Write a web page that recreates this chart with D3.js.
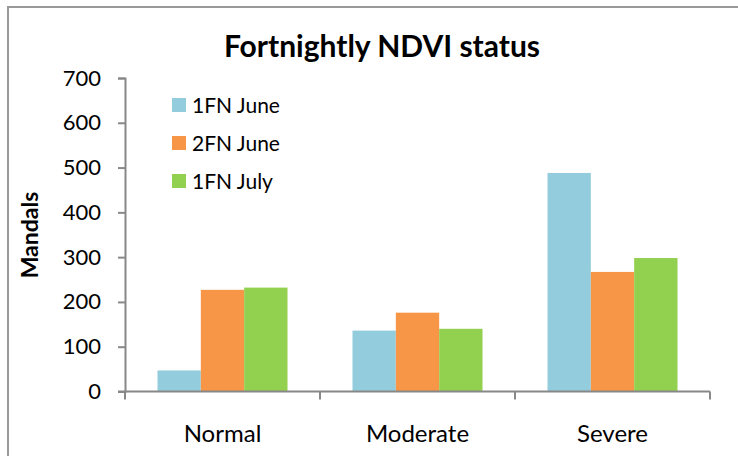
<!DOCTYPE html>
<html>
<head>
<meta charset="utf-8">
<script src="https://cdn.jsdelivr.net/npm/d3@7"></script>
<style>
  body { margin: 0; background: #fff; }
  svg { display: block; font-family: "Lato", "Open Sans", sans-serif; }
</style>
</head>
<body>
<div id="chart"></div>
<script>
// Chart data
const categories = ["Normal", "Moderate", "Severe"];
const seriesNames = ["1FN June", "2FN June", "1FN July"];
const june1 = [47, 136, 488];
const june2 = [227, 176, 267];
const july1 = [232, 140, 298];
const yTicks = [0, 100, 200, 300, 400, 500, 600, 700];
const colors = ["#93cddd", "#f79646", "#92d050"];

const width = 738;
const height = 456;
const margin = { top: 78, right: 28, bottom: 64, left: 125 };

const svg = d3.select("#chart").append("svg")
  .attr("width", width)
  .attr("height", height);

// Outer chart border (right and bottom edges run off the picture)
svg.append("rect")
  .attr("x", 8).attr("y", 7)
  .attr("width", 760).attr("height", 480)
  .attr("fill", "none")
  .attr("stroke", "#999")
  .attr("stroke-width", 2);

const x = d3.scaleBand()
  .domain(categories)
  .range([margin.left, width - margin.right]);

const inner = d3.scaleBand()
  .domain(seriesNames)
  .range([0, x.bandwidth()])
  .paddingOuter(0.75)
  .paddingInner(0);

const y = d3.scaleLinear()
  .domain([0, 700])
  .range([391.5, 78]);

// Bars
const series = [june1, june2, july1];
series.forEach((vals, i) => {
  svg.append("g")
    .selectAll("rect")
    .data(categories)
    .enter()
    .append("rect")
    .attr("x", (c) => x(c) + inner(seriesNames[i]))
    .attr("y", (c, j) => y(vals[j]))
    .attr("width", inner.bandwidth())
    .attr("height", (c, j) => y(0) - y(vals[j]))
    .attr("fill", colors[i]);
});

// Y axis
const yAxis = svg.append("g")
  .attr("transform", `translate(${margin.left},0)`)
  .call(d3.axisLeft(y).tickValues(yTicks).tickSize(7).tickPadding(17));
yAxis.select(".domain").attr("stroke", "#888").attr("stroke-width", 2);
yAxis.selectAll(".tick line").attr("stroke", "#888").attr("stroke-width", 2);
yAxis.selectAll(".tick text")
  .attr("fill", "#000")
  .style("font-size", "22px")
  .style("font-family", "Lato, sans-serif");

// X axis with ticks on category boundaries
const xg = svg.append("g")
  .attr("transform", `translate(0,${y(0)})`);
xg.append("line")
  .attr("x1", margin.left - 7).attr("x2", x.range()[1])
  .attr("stroke", "#888").attr("stroke-width", 2);
const bounds = categories.map((c) => x(c)).concat([x.range()[1]]);
xg.selectAll("line.tk")
  .data(bounds)
  .enter()
  .append("line")
  .attr("class", "tk")
  .attr("x1", (d) => d).attr("x2", (d) => d)
  .attr("y1", 0).attr("y2", 8)
  .attr("stroke", "#888").attr("stroke-width", 2);
xg.selectAll("text")
  .data(categories)
  .enter()
  .append("text")
  .attr("x", (d) => x(d) + x.bandwidth() / 2)
  .attr("y", 50)
  .attr("text-anchor", "middle")
  .style("font-size", "24px")
  .text((d) => d);

// Title
svg.append("text")
  .attr("x", 382)
  .attr("y", 57)
  .attr("text-anchor", "middle")
  .style("font-size", "30px")
  .style("font-weight", "bold")
  .text("Fortnightly NDVI status");

// Y label
svg.append("text")
  .attr("transform", "translate(38,235) rotate(-90)")
  .attr("text-anchor", "middle")
  .style("font-size", "23px")
  .style("font-weight", "bold")
  .text("Mandals");

// Legend
const legend = svg.append("g");
seriesNames.forEach((name, i) => {
  const cy = 105 + i * 38;
  legend.append("rect")
    .attr("x", 172).attr("y", cy - 7)
    .attr("width", 14).attr("height", 14)
    .attr("fill", colors[i]);
  legend.append("text")
    .attr("x", 192).attr("y", cy + 8)
    .style("font-size", "21px")
    .text(name);
});
</script>
</body>
</html>
